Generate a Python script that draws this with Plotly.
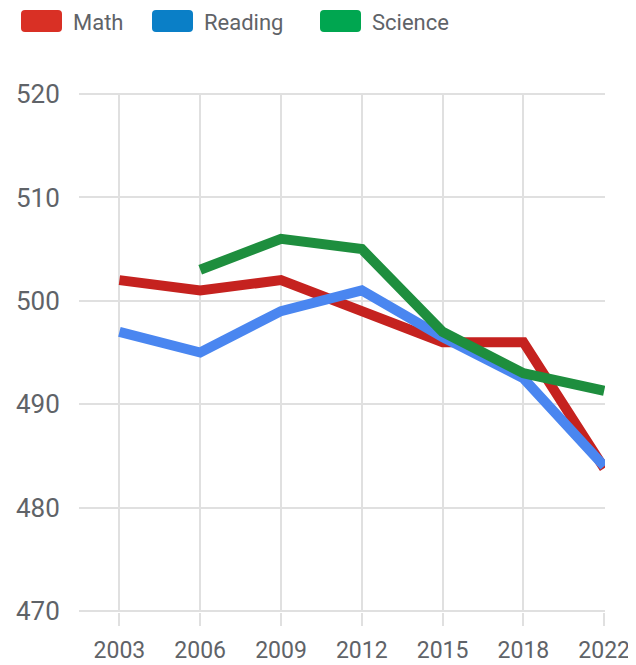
import plotly.graph_objects as go

years = ["2003", "2006", "2009", "2012", "2015", "2018", "2022"]
math = [502, 501, 502, 499, 496, 496, 483.8]
reading = [497, 495, 499, 501, 496.5, 492.5, 484]
science = [None, 503, 506, 505, 497, 493, 491.3]

series_names = ["Math", "Reading", "Science"]
line_colors = ["#c5221f", "#4a86f0", "#1e8e3e"]
legend_colors = ["#d93025", "#0a7fc7", "#00a650"]

y_ticks = [470, 480, 490, 500, 510, 520]

fig = go.Figure()
for name, vals, col in zip(series_names, [math, reading, science], line_colors):
    fig.add_trace(go.Scatter(x=years, y=vals, mode="lines", name=name,
                             line=dict(color=col, width=10), connectgaps=False,
                             showlegend=False))

# page body has an 8px default margin, so the figure is sized to fit the window
OFF = 8
W, H = 636 - OFF, 665 - OFF
ml, mr, mt, mb = 79 - OFF, 31, 93 - OFF, 53
pw, ph = W - ml - mr, H - mt - mb

def px(x):
    return (x - OFF - ml) / pw

def py(y):
    return (H - mb - (y - OFF)) / ph

# custom legend (rounded swatches + labels), positions in window pixels
legend_x = [21, 152, 320]
shapes = []
annotations = []
for name, lx, col in zip(series_names, legend_x, legend_colors):
    x0, x1, y0, y1 = px(lx), px(lx + 41), py(10), py(32)
    rx = 4 / pw
    ry = 4 / ph
    path = (f"M{x0+rx},{y0} L{x1-rx},{y0} Q{x1},{y0} {x1},{y0-ry} L{x1},{y1+ry} "
            f"Q{x1},{y1} {x1-rx},{y1} L{x0+rx},{y1} Q{x0},{y1} {x0},{y1+ry} "
            f"L{x0},{y0-ry} Q{x0},{y0} {x0+rx},{y0} Z")
    shapes.append(dict(type="path", xref="paper", yref="paper", path=path,
                       fillcolor=col, line=dict(width=0)))
    annotations.append(dict(xref="paper", yref="paper", x=px(lx + 50), y=py(22),
                            text=name, showarrow=False, xanchor="left", yanchor="middle",
                            font=dict(size=22, color="#5f6368", family="Roboto")))

fig.update_layout(
    width=W, height=H,
    margin=dict(l=ml, r=mr, t=mt, b=mb, autoexpand=False),
    paper_bgcolor="white", plot_bgcolor="white",
    font=dict(family="Roboto", color="#5f6368", size=26),
    shapes=shapes, annotations=annotations,
    showlegend=False,
)
fig.update_xaxes(type="category", range=[-0.5, 6.01], showgrid=True, automargin=False,
                 gridcolor="#e0e0e0", gridwidth=2, zeroline=False, showline=False,
                 ticks="outside", ticklen=13, tickwidth=2, tickcolor="#e0e0e0",
                 ticklabelstandoff=4,
                 tickfont=dict(size=23, color="#5f6368"))
fig.update_yaxes(range=[469.9, 520.1], tickvals=y_ticks, showgrid=True, automargin=False,
                 gridcolor="#e0e0e0", gridwidth=2, zeroline=False, showline=False,
                 ticks="outside", ticklen=13, tickcolor="rgba(0,0,0,0)",
                 tickfont=dict(size=26, color="#5f6368"))

fig.write_html("out.html")
